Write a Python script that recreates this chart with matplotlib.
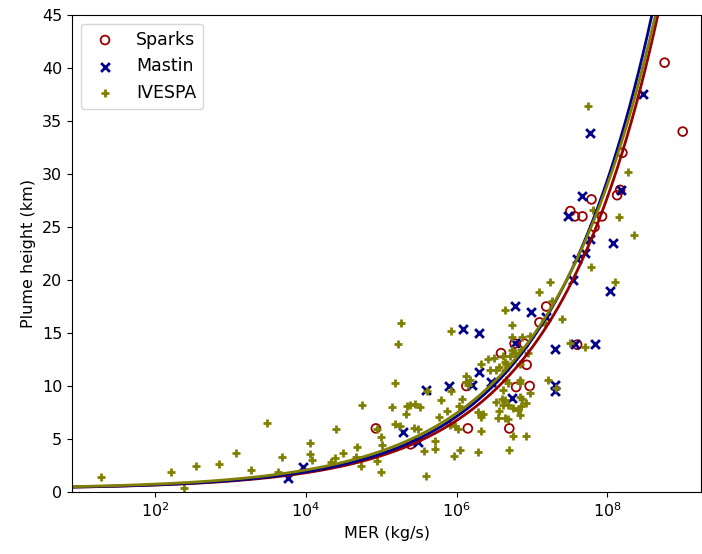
import numpy as np
import matplotlib.pyplot as plt

plt.rcParams['font.size'] = 11.5

# log10 MER (kg/s) and plume height (km) for each compilation
sparks_logq = [4.93, 5.39, 6.15, 6.13, 6.59, 6.93, 6.79, 6.97, 6.70, 7.60,
               6.77, 6.90, 7.10, 7.19, 7.51, 7.57, 7.67, 7.79, 7.83, 7.93,
               8.13, 8.17, 8.20, 8.76, 9.00]
sparks_h = [6.0, 4.5, 6.0, 10.0, 13.1, 12.0, 9.9, 10.0, 6.0, 13.9,
            14.0, 14.0, 16.0, 17.5, 26.5, 26.0, 26.0, 27.6, 25.0, 26.0,
            28.0, 28.5, 32.0, 40.5, 34.0]

mastin_logq = [3.77, 3.97, 5.29, 5.49, 5.60, 5.90, 6.08, 6.30, 6.30, 6.21,
               6.46, 6.78, 6.99, 6.77, 6.74, 7.19, 7.30, 7.31, 7.31, 7.54,
               7.57, 7.84, 8.04, 7.48, 7.60, 7.71, 7.77, 8.07, 7.66, 7.77,
               8.18, 8.48]
mastin_h = [1.3, 2.4, 5.7, 4.7, 9.6, 10.0, 15.4, 15.0, 11.3, 10.1,
            10.4, 17.5, 17.0, 14.1, 8.9, 16.5, 13.5, 10.1, 9.5, 20.0,
            14.0, 14.0, 19.0, 26.0, 22.0, 22.5, 23.9, 23.5, 27.9, 33.9,
            28.5, 37.5]

ivespa_logq = [1.28, 2.21, 2.38, 2.55, 2.85, 3.08, 3.27, 3.49, 3.63, 3.69,
               4.05, 4.05, 4.08, 4.33, 4.39, 4.40, 4.50, 4.68, 4.66, 4.73,
               4.74, 4.94, 5.00, 5.00, 5.01, 4.94, 5.18, 5.15, 5.18, 5.25,
               5.22, 5.26, 5.33, 5.34, 5.38, 5.45, 5.51, 5.44, 5.49, 5.59,
               5.57, 5.71, 5.71, 5.61, 5.77, 5.80, 5.87, 5.93, 5.93, 5.92,
               5.98, 6.02, 5.97, 6.05, 6.07, 6.03, 6.13, 6.18, 6.12, 6.15,
               6.28, 6.29, 6.32, 6.35, 6.33, 6.33, 6.42, 6.50, 6.44, 6.53,
               6.57, 6.62, 6.64, 6.64, 6.73, 6.74, 6.87, 6.73, 6.77, 6.71,
               6.66, 6.64, 6.84, 6.66, 6.84, 6.97, 6.62, 6.60, 6.64, 6.62,
               6.53, 6.57, 6.55, 6.64, 6.68, 6.75, 6.82, 6.86, 6.84, 6.87,
               6.92, 6.84, 6.68, 6.75, 6.92, 6.70, 6.84, 6.86, 6.97, 6.95,
               7.10, 7.24, 7.17, 7.26, 7.21, 7.40, 7.51, 7.71, 7.32, 7.78,
               8.10, 8.15, 7.81, 7.74, 8.27, 8.36, 6.68]
ivespa_h = [1.4, 1.9, 0.4, 2.5, 2.6, 3.7, 2.1, 6.5, 1.9, 3.3,
            4.6, 3.6, 3.0, 2.8, 3.2, 5.9, 3.7, 4.2, 3.3, 2.5,
            8.2, 2.9, 1.9, 5.2, 4.4, 5.9, 10.3, 8.0, 6.4, 6.2,
            14.0, 15.9, 7.4, 8.1, 8.2, 8.3, 8.0, 6.0, 5.9, 1.5,
            3.9, 4.8, 4.1, 9.5, 7.1, 8.7, 7.6, 15.2, 9.5, 6.3,
            6.2, 5.9, 3.4, 4.0, 8.8, 8.1, 10.9, 10.6, 10.4, 10.1,
            3.8, 7.5, 7.1, 7.4, 5.8, 12.1, 12.5, 12.6, 11.5, 11.5,
            11.8, 12.8, 12.3, 17.2, 15.8, 14.6, 14.6, 13.4, 13.1, 12.8,
            12.1, 11.5, 12.1, 10.6, 10.3, 9.3, 9.6, 8.8, 8.7, 8.2,
            8.5, 7.6, 7.0, 7.0, 8.2, 7.9, 7.7, 8.1, 7.3, 8.8,
            8.4, 9.0, 6.9, 5.3, 5.3, 4.0, 10.6, 13.4, 14.7, 13.1,
            18.9, 19.8, 15.9, 18.0, 10.6, 16.3, 14.1, 13.7, 9.8, 21.2,
            19.8, 25.9, 26.6, 36.4, 30.2, 24.2, 10.3]

# power-law fits H = c + a * MER**b
fits = {
    'Sparks': (0.3, 0.083, 0.315),
    'Mastin': (0.3, 0.0879, 0.315),
    'IVESPA': (0.3, 0.11, 0.302),
}

red = '#990000'
blue = '#00008b'
olive = '#808000'

fig, ax = plt.subplots(figsize=(7.02, 5.54), dpi=100)
fig.subplots_adjust(left=0.1026, right=0.9986, top=0.973, bottom=0.1119)

ax.scatter(10 ** np.array(sparks_logq), sparks_h, marker='o', facecolors='none',
           edgecolors=red, linewidths=1.3, s=40, label='Sparks')
ax.scatter(10 ** np.array(mastin_logq), mastin_h, marker='x', color=blue,
           linewidths=2, s=40, label='Mastin')
ax.scatter(10 ** np.array(ivespa_logq), ivespa_h, marker='+', color=olive,
           linewidths=2, s=40, label='IVESPA')

q = np.logspace(0, 10, 500)
for name, col in [('Sparks', red), ('Mastin', blue), ('IVESPA', olive)]:
    c, a, b = fits[name]
    ax.plot(q, c + a * q ** b, color=col, lw=2)

ax.set_xscale('log')
ax.set_xlim(7.94, 1.75e9)
ax.set_xticks([1e2, 1e4, 1e6, 1e8])
ax.set_ylim(0, 45)
ax.minorticks_off()
ax.set_xlabel('MER (kg/s)')
ax.set_ylabel('Plume height (km)')
ax.legend(loc='upper left', fontsize=12.5)

plt.savefig('out.png', dpi=100)
